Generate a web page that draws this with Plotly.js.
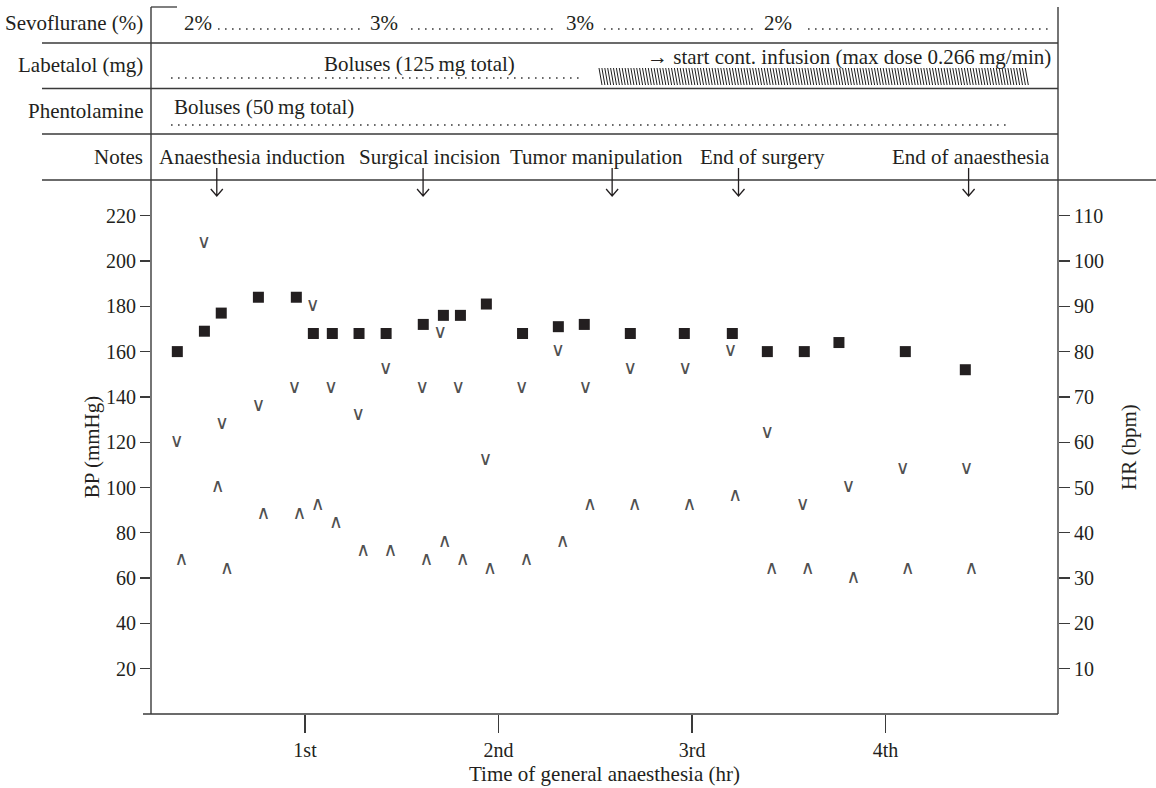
<!DOCTYPE html>
<html><head><meta charset="utf-8">
<script src="https://cdn.plot.ly/plotly-3.0.1.min.js"></script>
<style>html,body{margin:0;padding:0;background:#fff;}#chart{width:1156px;height:788px;}</style>
</head><body><div id="chart"></div>
<script>
// ---- data (time in hours of general anaesthesia) ----
const timeHR = [0.34, 0.48, 0.567, 0.759, 0.955, 1.043, 1.141, 1.279, 1.419, 1.611, 1.715, 1.803, 1.937, 2.124, 2.309, 2.443, 2.681, 2.960, 3.208, 3.389, 3.580, 3.759, 4.102, 4.412];
const heartRate = [80, 84.5, 88.5, 92, 92, 84, 84, 84, 84, 86, 88, 88, 90.5, 84, 85.5, 86, 84, 84, 84, 80, 80, 82, 80, 76];
const timeSys = [0.337, 0.478, 0.571, 0.759, 0.945, 1.040, 1.134, 1.275, 1.417, 1.605, 1.698, 1.792, 1.932, 2.120, 2.307, 2.449, 2.680, 2.964, 3.198, 3.388, 3.572, 3.808, 4.089, 4.418];
const systolicBP = [120, 208, 128, 136, 144, 180, 144, 132, 152, 144, 168, 144, 112, 144, 160, 144, 152, 152, 160, 124, 92, 100, 108, 108];
const timeDia = [0.361, 0.549, 0.597, 0.785, 0.971, 1.066, 1.160, 1.301, 1.441, 1.627, 1.722, 1.815, 1.956, 2.144, 2.332, 2.473, 2.703, 2.987, 3.223, 3.411, 3.598, 3.834, 4.115, 4.444];
const diastolicBP = [68, 100, 64, 88, 88, 92, 84, 72, 72, 68, 76, 68, 64, 68, 76, 92, 92, 92, 96, 64, 64, 60, 64, 64];
const hourTicks = [1, 2, 3, 4];
const hourLabels = ['1st', '2nd', '3rd', '4th'];
const bpTicks = [20, 40, 60, 80, 100, 120, 140, 160, 180, 200, 220];
const hrTicks = [10, 20, 30, 40, 50, 60, 70, 80, 90, 100, 110];
const eventTimes = [0.544, 1.610, 2.587, 3.240, 4.429];
const eventLabels = ['Anaesthesia induction', 'Surgical incision', 'Tumor manipulation', 'End of surgery', 'End of anaesthesia'];
const rowLabels = ['Sevoflurane (%)', 'Labetalol (mg)', 'Phentolamine', 'Notes'];
const sevoLevels = ['2%', '3%', '3%', '2%'];
const labetalolBolus = 'Boluses (125\u2009mg total)';
const labetalolInfusion = '\u2192 start cont. infusion (max dose 0.266\u2009mg/min)';
const phentolamineBolus = 'Boluses (50\u2009mg total)';

// ---- geometry helpers (pixel -> paper) ----
const L = 151, R = 1058, T = 180, B = 714;
const px = x => (x - L) / (R - L);
const py = y => (B - y) / (B - T);
const SERIF = 'Liberation Serif, Times New Roman, serif';
const INK = '#231f20';
const LINE = '#3a3a3a';

const shapes = [];
const ann = [];
function hline(x0, x1, y, w, dash) {
  shapes.push({type: 'line', xref: 'paper', yref: 'paper', x0: px(x0), x1: px(x1), y0: py(y), y1: py(y),
    line: {color: LINE, width: w || 1.3, dash: dash || 'solid'}});
}
function vline(x, y0, y1) {
  shapes.push({type: 'line', xref: 'paper', yref: 'paper', x0: px(x), x1: px(x), y0: py(y0), y1: py(y1),
    line: {color: LINE, width: 1.4}});
}
function txt(text, x, y, anchor) {
  ann.push({text: text, xref: 'paper', yref: 'paper', x: px(x), y: py(y), xanchor: anchor || 'center', yanchor: 'middle',
    showarrow: false, font: {family: SERIF, size: 21, color: INK}});
}

// table frame
[43, 88.5, 134].forEach(y => hline(42, 1058, y));
hline(42, 1156, 180);
vline(L, 7, B);
vline(R, 7, B);
hline(L, 177, 7, 1.3);
hline(143, R, B, 1.4);

// row labels
const rowY = [23, 65, 111, 157];
rowLabels.forEach((t, i) => txt(t, 145, rowY[i], 'right'));

// Sevoflurane row
const DOT = '1.6px,5.4px';
const sevoX = [198, 384, 580, 778];
sevoLevels.forEach((t, i) => txt(t, sevoX[i], 23));
[[218, 362], [411, 555], [604, 757], [808, 1048]].forEach(s => hline(s[0], s[1], 29, 1.4, DOT));

// Labetalol row
txt(labetalolBolus, 419, 64);
hline(171, 582, 78, 1.4, DOT);
txt(labetalolInfusion, 1053, 57, 'right');
let hatch = '';
for (let x = 599; x + 3 <= 1029; x += 2.9) {
  hatch += 'M' + px(x) + ',' + py(68) + 'L' + px(x + 3) + ',' + py(85);
}
shapes.push({type: 'path', xref: 'paper', yref: 'paper', path: hatch, line: {color: '#1e1e1e', width: 1}});

// Phentolamine row
txt(phentolamineBolus, 172, 107, 'left');
hline(171, 1008, 125, 1.4, DOT);

// Notes row
const noteX = [252, 430, 596, 762, 971];
eventLabels.forEach((t, i) => txt(t, noteX[i], 157));

// event arrows (in data x, paper y)
const hw = 6 / 193.5, hh = 7 / (B - T);
eventTimes.forEach(t => {
  const top = py(168), tip = py(196);
  shapes.push({type: 'path', xref: 'x', yref: 'paper',
    path: 'M' + t + ',' + top + 'L' + t + ',' + tip + 'M' + (t - hw) + ',' + (tip + hh) + 'L' + t + ',' + tip + 'L' + (t + hw) + ',' + (tip + hh),
    line: {color: INK, width: 1.3}});
});

const glyphFont = {family: 'DejaVu Sans', size: 19, color: '#505050'};
const traces = [
  {x: timeHR, y: heartRate, yaxis: 'y2', type: 'scatter', mode: 'markers', hoverinfo: 'skip',
   marker: {symbol: 'square', size: 11, color: INK, line: {width: 0}}},
  {x: timeSys, y: systolicBP, type: 'scatter', mode: 'text', text: systolicBP.map(() => '\u2228'), hoverinfo: 'skip',
   textposition: 'middle center', textfont: glyphFont},
  {x: timeDia, y: diastolicBP, type: 'scatter', mode: 'text', text: diastolicBP.map(() => '\u2227'), hoverinfo: 'skip',
   textposition: 'middle center', textfont: glyphFont}
];

const tickFont = {family: SERIF, size: 20, color: INK};
const layout = {
  width: 1156, height: 788,
  margin: {l: L, r: 1156 - R, t: T, b: 788 - B, pad: 0},
  paper_bgcolor: '#fff', plot_bgcolor: '#fff',
  showlegend: false,
  font: {family: SERIF, color: INK},
  xaxis: {range: [0.204, 4.891], tickvals: hourTicks, ticktext: hourLabels, ticks: 'outside', ticklen: 18,
    tickcolor: LINE, tickwidth: 1.2, showgrid: false, zeroline: false, showline: false, automargin: false,
    tickfont: tickFont, title: {text: 'Time of general anaesthesia (hr)', font: {family: SERIF, size: 21, color: INK}, standoff: 6}},
  yaxis: {range: [0, 235.76], tickvals: bpTicks, ticks: 'outside', ticklen: 10, tickcolor: LINE, tickwidth: 1.4,
    showgrid: false, zeroline: false, showline: false, automargin: false, tickfont: tickFont,
    title: {text: 'BP (mmHg)', font: {family: SERIF, size: 21, color: INK}, standoff: 0}},
  yaxis2: {range: [0, 117.88], tickvals: hrTicks, overlaying: 'y', side: 'right', ticks: 'outside', ticklen: 11,
    tickcolor: LINE, tickwidth: 1.4, showgrid: false, zeroline: false, showline: false, automargin: false, tickfont: tickFont,
    title: {text: 'HR (bpm)', font: {family: SERIF, size: 21, color: INK}, standoff: 18}},
  shapes: shapes,
  annotations: ann
};
Plotly.newPlot('chart', traces, layout, {displayModeBar: false, staticPlot: true});
</script>
</body></html>
